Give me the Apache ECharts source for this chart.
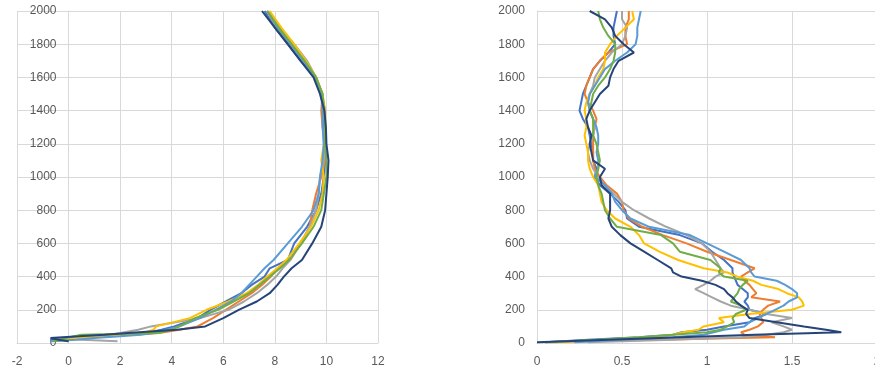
<!DOCTYPE html>
<html>
<head>
<meta charset="utf-8">
<script src="https://cdn.jsdelivr.net/npm/echarts@6/dist/echarts.min.js"></script>
<style>
  html, body { margin: 0; padding: 0; background: #fff; }
  #chart { width: 875px; height: 372px; }
</style>
</head>
<body>
<div id="chart"></div>
<script>
// heights (y) shared by the series of each panel
const heightsL = [10, 20, 30, 40, 50, 60, 80, 100, 150, 200,
  250, 300, 350, 400, 450, 500, 600, 700, 800, 900,
  1000, 1100, 1200, 1300, 1400, 1500, 1600, 1700, 1800, 1900, 2000];

const heightsR = [5, 20, 35, 50, 65, 80, 100, 125, 150, 175, 200, 225, 250,
  275, 300, 325, 350, 375, 400, 425, 450, 500, 550, 600, 650,
  700, 750, 800, 850, 900, 950, 1000, 1050, 1100, 1150, 1200, 1250, 1300,
  1350, 1400, 1450, 1500, 1550, 1600, 1650, 1700, 1750, 1800, 1850, 1900, 1950, 2000];

// left panel
const blueL = [-0.5, -0.7, 0.3, 1.3, 2.3, 3.0, 3.6, 4.1, 5.0, 5.5,
  6.1, 6.7, 7.1, 7.6, 7.8, 8.5, 8.75, 9.25, 9.6, 9.8,
  9.9, 9.95, 9.9, 9.88, 9.95, 9.8, 9.55, 9.0, 8.5, 8.0, 7.6];
const orangeL = [0.0, -0.3, 0.4, 1.4, 2.5, 3.5, 4.3, 5.0, 5.6, 6.1,
  6.6, 7.1, 7.5, 7.85, 8.1, 8.6, 9.0, 9.35, 9.45, 9.6,
  9.8, 9.95, 9.95, 9.85, 9.8, 9.85, 9.6, 9.15, 8.6, 8.1, 7.7];
const grayL = [1.9, 0.5, -0.3, 0.9, 1.6, 2.0, 2.7, 3.2, 5.1, 6.2,
  6.8, 7.3, 7.7, 8.05, 8.3, 8.6, 9.0, 9.35, 9.6, 9.7,
  9.75, 9.9, 9.95, 9.95, 9.9, 9.85, 9.6, 9.25, 8.75, 8.2, 7.75];
const yellowL = [-0.3, -0.5, 0.5, 1.5, 2.4, 2.9, 3.3, 3.4, 4.7, 5.35,
  6.2, 6.9, 7.35, 7.7, 8.1, 8.45, 8.95, 9.4, 9.7, 9.85,
  9.9, 9.8, 9.9, 9.95, 9.95, 9.85, 9.6, 9.2, 8.75, 8.25, 7.8];
const lightBlueL = [-0.7, 0.3, 1.0, 2.0, 2.8, 3.3, 3.8, 4.3, 5.1, 5.7,
  6.3, 6.7, 7.0, 7.3, 7.6, 7.95, 8.5, 9.05, 9.5, 9.7,
  9.75, 9.85, 9.9, 9.85, 9.85, 9.8, 9.55, 9.1, 8.6, 8.1, 7.7];
const greenL = [-0.6, -0.3, -0.1, -0.1, 0.5, 3.5, 4.0, 4.3, 4.9, 5.8,
  6.4, 7.0, 7.4, 7.8, 8.2, 8.55, 9.05, 9.5, 9.8, 9.9,
  10.0, 10.0, 9.95, 9.95, 9.92, 9.85, 9.6, 9.15, 8.65, 8.15, 7.7];
const darkBlueL = [0.0, -0.4, -0.7, 0.4, 1.4, 2.3, 4.2, 5.3, 6.0, 6.6,
  7.3, 7.8, 8.1, 8.35, 8.65, 9.05, 9.45, 9.8, 9.95, 10.0,
  10.05, 10.08, 10.0, 9.98, 9.92, 9.75, 9.5, 9.0, 8.5, 8.0, 7.5];

// right panel
const blueR = [0.05, 0.3, 0.6, 0.8, 0.85, 1.0, 1.1, 1.25, 1.28, 1.35, 1.25, 1.24, 1.22,
  1.24, 1.24, 1.21, 1.18, 1.17, 1.16, 1.15, 1.15, 1.10, 1.03, 0.97, 0.84,
  0.60, 0.53, 0.52, 0.48, 0.43, 0.37, 0.34, 0.35, 0.33, 0.33, 0.32, 0.31, 0.30,
  0.27, 0.25, 0.26, 0.27, 0.29, 0.31, 0.33, 0.37, 0.42, 0.46, 0.45, 0.45, 0.46, 0.47];
const orangeR = [0.07, 0.7, 1.40, 1.22, 1.20, 1.25, 1.30, 1.33, 1.32, 1.31, 1.33, 1.36, 1.43,
  1.26, 1.29, 1.27, 1.25, 1.22, 1.20, 1.24, 1.28, 1.14, 1.0, 0.88, 0.74,
  0.62, 0.54, 0.51, 0.50, 0.47, 0.41, 0.37, 0.34, 0.33, 0.33, 0.33, 0.33, 0.34,
  0.35, 0.33, 0.30, 0.28, 0.29, 0.31, 0.33, 0.37, 0.42, 0.53, 0.52, 0.52, 0.54, 0.54];
const grayR = [0.3, 0.8, 1.2, 1.35, 1.45, 1.50, 1.45, 1.38, 1.50, 1.35, 1.25, 1.14, 1.08,
  1.03, 0.98, 0.93, 0.98, 1.02, 1.05, 1.10, 1.08, 1.05, 1.02, 0.97, 0.88,
  0.76, 0.66, 0.57, 0.50, 0.45, 0.40, 0.36, 0.33, 0.31, 0.30, 0.31, 0.33, 0.34,
  0.33, 0.31, 0.30, 0.31, 0.33, 0.34, 0.37, 0.40, 0.44, 0.50, 0.52, 0.53, 0.50, 0.50];
const yellowR = [0.1, 0.4, 0.65, 0.8, 0.86, 0.95, 0.98, 1.1, 1.07, 1.25, 1.50, 1.57, 1.56,
  1.54, 1.47, 1.42, 1.32, 1.27, 1.18, 1.12, 0.98, 0.83, 0.72, 0.63, 0.60,
  0.55, 0.46, 0.41, 0.38, 0.37, 0.36, 0.33, 0.31, 0.30, 0.30, 0.29, 0.28, 0.29,
  0.29, 0.28, 0.29, 0.31, 0.34, 0.36, 0.39, 0.40, 0.40, 0.43, 0.47, 0.52, 0.57, 0.56];
const lightBlueR = [0.22, 0.5, 0.8, 0.98, 1.04, 1.10, 1.22, 1.25, 1.30, 1.35, 1.40, 1.45, 1.48,
  1.53, 1.53, 1.50, 1.46, 1.41, 1.28, 1.26, 1.25, 1.20, 1.10, 1.00, 0.90,
  0.66, 0.55, 0.50, 0.46, 0.44, 0.40, 0.34, 0.36, 0.36, 0.35, 0.36, 0.36, 0.35,
  0.33, 0.31, 0.30, 0.31, 0.34, 0.37, 0.40, 0.46, 0.53, 0.58, 0.59, 0.59, 0.60, 0.61];
const greenR = [0.05, 0.35, 0.6, 0.8, 1.0, 1.08, 1.12, 1.16, 1.15, 1.17, 1.23, 1.20, 1.14,
  1.16, 1.18, 1.19, 1.21, 1.24, 1.10, 1.07, 1.08, 1.02, 0.84, 0.80, 0.73,
  0.47, 0.43, 0.40, 0.39, 0.38, 0.36, 0.35, 0.36, 0.37, 0.36, 0.35, 0.33, 0.33,
  0.33, 0.31, 0.32, 0.33, 0.36, 0.40, 0.43, 0.45, 0.46, 0.46, 0.42, 0.39, 0.37, 0.36];
const darkBlueR = [0.0, 0.42, 0.85, 1.28, 1.79, 1.70, 1.57, 1.41, 1.25, 1.23, 1.24, 1.20, 1.17,
  1.15, 1.12, 1.10, 1.05, 0.97, 0.85, 0.80, 0.79, 0.71, 0.63, 0.55, 0.49,
  0.44, 0.42, 0.43, 0.43, 0.43, 0.38, 0.37, 0.40, 0.33, 0.32, 0.31, 0.32, 0.30,
  0.29, 0.31, 0.34, 0.37, 0.42, 0.43, 0.45, 0.48, 0.57, 0.51, 0.46, 0.44, 0.40, 0.31];

const colors = ['#4472C4', '#ED7D31', '#A5A5A5', '#FFC000', '#5B9BD5', '#70AD47', '#264478'];
const leftSets = [blueL, orangeL, grayL, yellowL, lightBlueL, greenL, darkBlueL];
const rightSets = [blueR, orangeR, grayR, yellowR, lightBlueR, greenR, darkBlueR];

const toPairs = (xs, hs) => xs.map((x, i) => [x, hs[i]]);

const labelStyle = { color: '#595959', fontSize: 12, fontFamily: 'Liberation Sans, Arial, sans-serif' };
const gridLine = { show: true, lineStyle: { color: '#D9D9D9', width: 1 } };

function makeX(gridIndex, min, max, interval) {
  return {
    type: 'value', gridIndex, min, max, interval,
    axisLine: { show: true, onZero: false, lineStyle: { color: '#D9D9D9' } },
    axisTick: { show: false },
    axisLabel: Object.assign({ margin: 13, formatter: v => String(v) }, labelStyle),
    splitLine: gridLine
  };
}
// offset < 0 pulls the y axis in to x = 0 (left panel starts at -2)
function makeY(gridIndex, offset) {
  return {
    type: 'value', gridIndex, min: 0, max: 2000, interval: 200, offset,
    axisLine: { show: true, onZero: false, lineStyle: { color: '#D9D9D9' } },
    axisTick: { show: false },
    axisLabel: Object.assign({ margin: 12, formatter: v => String(v) }, labelStyle),
    splitLine: gridLine
  };
}

let series = [];
leftSets.forEach((xs, i) => {
  series.push({
    type: 'line', xAxisIndex: 0, yAxisIndex: 0,
    data: toPairs(xs, heightsL), showSymbol: false,
    lineStyle: { width: 2, color: colors[i] }, itemStyle: { color: colors[i] }
  });
});
rightSets.forEach((xs, i) => {
  series.push({
    type: 'line', xAxisIndex: 1, yAxisIndex: 1,
    data: toPairs(xs, heightsR), showSymbol: false,
    lineStyle: { width: 2, color: colors[i] }, itemStyle: { color: colors[i] }
  });
});

let myChart = echarts.init(document.getElementById('chart'));
let option = {
  animation: false,
  backgroundColor: '#fff',
  grid: [
    { left: 17, top: 11, width: 361, height: 332, outerBoundsMode: 'none', containLabel: false },
    { left: 537, top: 11, width: 340, height: 332, outerBoundsMode: 'none', containLabel: false }
  ],
  xAxis: [makeX(0, -2, 12, 2), makeX(1, 0, 2, 0.5)],
  yAxis: [makeY(0, -51.5), makeY(1, 0)],
  series: series
};
myChart.setOption(option);
</script>
</body>
</html>
